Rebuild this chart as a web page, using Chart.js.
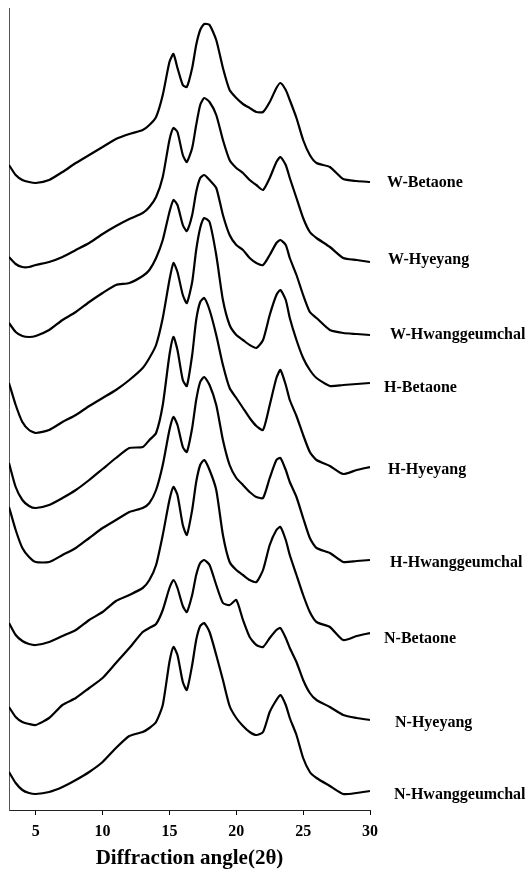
<!DOCTYPE html>
<html>
<head>
<meta charset="utf-8">
<script src="https://cdn.jsdelivr.net/npm/chart.js@4.4.0/dist/chart.umd.min.js"></script>
<style>
  html, body { margin: 0; padding: 0; background: #fff; }
</style>
</head>
<body>
<canvas id="xrd" width="529" height="876"></canvas>
<script>
// diffraction angle (2 theta) where the curves were read
const angles = [3, 3.5, 4, 4.5, 5, 6, 7, 8, 9, 10, 11, 12, 13, 13.5, 14, 14.5, 15, 15.3, 15.6, 16, 16.3, 16.7, 17, 17.3, 17.6, 18, 18.5, 19, 19.5, 20, 20.5, 21, 21.5, 22, 22.5, 23, 23.3, 23.7, 24, 24.5, 25, 25.5, 26, 27, 28, 29, 30]

// intensities (arbitrary units, already stacked)
const wBetaone = [645, 635, 630, 628, 627, 630, 638, 647, 655, 663, 671, 676, 680, 685, 693, 715, 748, 756, 742, 725, 723, 742, 765, 780, 786, 785, 770, 742, 720, 712, 706, 702, 698, 698, 708, 722, 727, 720, 710, 692, 670, 655, 647, 643, 631, 629, 628]
const wHyeyang = [553, 546, 543, 543, 545, 548, 553, 560, 567, 576, 584, 591, 597, 603, 613, 633, 670, 682, 678, 655, 648, 662, 685, 705, 712, 708, 695, 670, 650, 642, 637, 630, 625, 620, 632, 648, 653, 645, 632, 612, 592, 578, 572, 563, 552, 550, 548]
const wHwang = [487, 478, 474, 473, 474, 480, 490, 498, 508, 517, 525, 527, 534, 540, 552, 570, 598, 610, 605, 585, 579, 595, 618, 632, 635, 630, 622, 595, 575, 565, 560, 552, 547, 545, 555, 567, 570, 565, 552, 535, 515, 498, 492, 480, 477, 476, 475]
const hBetaone = [427, 405, 388, 380, 377, 380, 388, 395, 404, 412, 420, 430, 442, 452, 465, 492, 530, 547, 538, 515, 507, 528, 560, 582, 592, 588, 555, 510, 485, 475, 470, 465, 462, 470, 495, 515, 520, 510, 492, 470, 452, 440, 432, 424, 425, 426, 427]
const hHyeyang = [347, 323, 310, 304, 302, 305, 312, 320, 330, 341, 352, 362, 363, 370, 377, 405, 455, 473, 460, 430, 424, 455, 490, 508, 512, 500, 475, 445, 422, 412, 402, 392, 384, 380, 405, 432, 440, 425, 410, 394, 375, 358, 350, 344, 336, 340, 343]
const hHwang = [303, 280, 262, 253, 248, 248, 255, 262, 272, 282, 290, 298, 302, 307, 320, 345, 380, 393, 385, 363, 358, 382, 410, 428, 433, 425, 405, 370, 345, 332, 325, 318, 313, 312, 332, 350, 352, 340, 328, 313, 292, 272, 262, 257, 248, 249, 250]
const nBetaone = [187, 175, 169, 166, 165, 168, 174, 180, 190, 198, 209, 215, 222, 230, 245, 275, 310, 323, 315, 285, 275, 300, 328, 345, 350, 340, 320, 275, 248, 240, 235, 230, 228, 240, 265, 280, 283, 270, 255, 235, 215, 198, 188, 183, 170, 174, 177]
const nHyeyang = [103, 93, 88, 86, 85, 92, 105, 112, 122, 132, 147, 162, 178, 182, 186, 200, 222, 230, 222, 204, 198, 215, 235, 247, 250, 245, 225, 207, 205, 210, 190, 173, 165, 163, 172, 180, 182, 172, 162, 148, 130, 117, 110, 103, 95, 92, 90]
const nHwang = [38, 27, 20, 17, 16, 18, 23, 30, 38, 48, 62, 74, 78, 82, 88, 105, 148, 163, 155, 128, 120, 145, 170, 184, 187, 178, 155, 130, 104, 92, 84, 78, 75, 78, 98, 110, 115, 105, 92, 75, 52, 38, 32, 24, 16, 17, 19]

const sampleNames = ['W-Betaone', 'W-Hyeyang', 'W-Hwanggeumchal', 'H-Betaone', 'H-Hyeyang', 'H-Hwanggeumchal', 'N-Betaone', 'N-Hyeyang', 'N-Hwanggeumchal']
const tickValues = [5, 10, 15, 20, 25, 30]

const series = [wBetaone, wHyeyang, wHwang, hBetaone, hHyeyang, hHwang, nBetaone, nHyeyang, nHwang]

// where each name sits, in px from the last point of its curve
const nameOffsets = [[17, -1], [18, 2], [20, 0], [14, -5], [18, -3], [20, -3], [14, -6], [25, -3], [24, -4]]

const serif = '"Liberation Serif", "Times New Roman", serif'

/* names written at the right end of each curve */
const namePlugin = {
    id: 'sampleNames',
    afterDatasetsDraw(chart) {
        const ctx = chart.ctx
        const xs = chart.scales.x
        const ys = chart.scales.y
        ctx.save()
        ctx.font = 'bold 16px ' + serif
        ctx.fillStyle = '#000'
        ctx.textBaseline = 'middle'
        chart.data.datasets.forEach((ds, i) => {
            const last = ds.data[ds.data.length - 1]
            ctx.fillText(ds.label,
                xs.getPixelForValue(last.x) + nameOffsets[i][0],
                ys.getPixelForValue(last.y) - nameOffsets[i][1])
        })
        ctx.restore()
    }
}

const datasets = series.map((vals, i) => ({
    label: sampleNames[i],
    data: vals.map((v, j) => ({ x: angles[j], y: v })),
    borderColor: '#000',
    borderWidth: 2.2,
    pointRadius: 0,
    tension: 0.2,
    fill: false
}))

new Chart(document.querySelector('#xrd'), {
    type: 'line',
    data: { datasets },
    plugins: [namePlugin],
    options: {
        responsive: false,
        animation: false,
        layout: { padding: { left: 9, right: 159, top: 8, bottom: 0 } },
        plugins: { legend: { display: false }, tooltip: { enabled: false } },
        scales: {
            x: {
                type: 'linear',
                min: 3,
                max: 30,
                afterBuildTicks: s => { s.ticks = tickValues.map(v => ({ value: v })) },
                afterFit: s => { s.height = 66 },
                grid: { drawOnChartArea: false, drawTicks: true, tickLength: 5, color: '#000' },
                border: { display: true, color: '#222', width: 1 },
                ticks: { padding: 7, color: '#000', maxRotation: 0, font: { family: serif, size: 16, weight: 'bold' } },
                title: {
                    display: true,
                    text: 'Diffraction angle(2θ)',
                    color: '#000',
                    padding: { top: 0, bottom: 5 },
                    font: { family: serif, size: 21, weight: 'bold' }
                }
            },
            y: {
                min: 0,
                max: 802,
                afterFit: s => { s.width = 0 },
                ticks: { display: false },
                grid: { display: false, drawTicks: false },
                border: { display: true, color: '#555', width: 1 }
            }
        }
    }
})
</script>
</body>
</html>
